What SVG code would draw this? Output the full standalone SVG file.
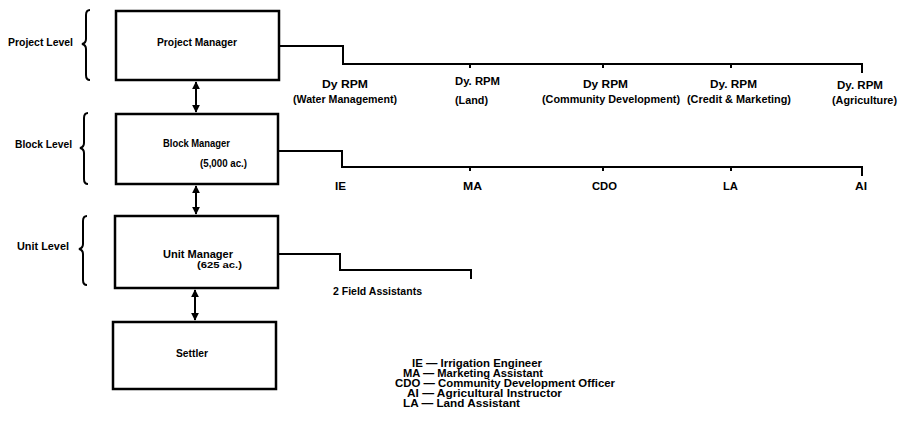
<svg xmlns="http://www.w3.org/2000/svg" width="906" height="429" viewBox="0 0 906 429">
<style>
text{font-family:"Liberation Sans",Arial,sans-serif;font-weight:bold;font-size:10px;fill:#000}
.box{fill:#fff;stroke:#000;stroke-width:2.5}
.ln{fill:none;stroke:#000;stroke-width:2}
.br{fill:none;stroke:#000;stroke-width:2}
.ar{fill:none;stroke:#000;stroke-width:2}
.s{font-size:9px}
</style>
<defs>
<marker id="ah" viewBox="0 0 10 10" refX="9" refY="5" markerWidth="4" markerHeight="4" orient="auto-start-reverse" markerUnits="strokeWidth">
<path d="M0,0 L10,5 L0,10 z" fill="#000"/>
</marker>
</defs>
<rect width="906" height="429" fill="#fff"/>

<g id="levels">
<text x="8" y="46" textLength="65" lengthAdjust="spacingAndGlyphs">Project Level</text>
<path class="br" d="M90,10 Q86,10 86,15 V39 Q86,43 82,44 Q86,45 86,49 V75 Q86,80 90,80"/>
<text x="15" y="148" textLength="57" lengthAdjust="spacingAndGlyphs">Block Level</text>
<path class="br" d="M88,113 Q84,113 84,118 V143 Q84,147 80,148 Q84,149 84,153 V179 Q84,184 88,184"/>
<text x="17" y="250" textLength="52" lengthAdjust="spacingAndGlyphs">Unit Level</text>
<path class="br" d="M87,216 Q83,216 83,221 V244 Q83,248 79,249 Q83,250 83,254 V280 Q83,285 87,285"/>
</g>

<g id="connectors">
<path class="ln" d="M279,46 H343 V64 H862 V73"/>
<path class="ln" d="M470,64 V68 M603,64 V68 M731,64 V68"/>
<path class="ln" d="M278,151 H342 V167 H862 V176"/>
<path class="ln" d="M470,167 V171 M603,167 V171 M731,167 V171"/>
<path class="ln" d="M277,254 H340 V270 H471 V279"/>
<line class="ar" x1="196" y1="82" x2="196" y2="112" marker-start="url(#ah)" marker-end="url(#ah)"/>
<line class="ar" x1="196" y1="186" x2="196" y2="214" marker-start="url(#ah)" marker-end="url(#ah)"/>
<line class="ar" x1="195" y1="290" x2="195" y2="320" marker-start="url(#ah)" marker-end="url(#ah)"/>
</g>

<g id="project-manager">
<rect class="box" x="116" y="11" width="163" height="69"/>
<text x="157" y="46" textLength="80" lengthAdjust="spacingAndGlyphs">Project Manager</text>
</g>
<g id="block-manager">
<rect class="box" x="116" y="114" width="162" height="70"/>
<text x="163" y="147" textLength="67" lengthAdjust="spacingAndGlyphs">Block Manager</text>
<text x="200" y="167" textLength="47" lengthAdjust="spacingAndGlyphs">(5,000 ac.)</text>
</g>
<g id="unit-manager">
<rect class="box" x="115" y="216" width="163" height="72"/>
<text x="163" y="258" textLength="70" lengthAdjust="spacingAndGlyphs">Unit Manager</text>
<text class="s" x="197" y="268" textLength="45" lengthAdjust="spacingAndGlyphs">(625 ac.)</text>
</g>
<g id="settler">
<rect class="box" x="113" y="322" width="163" height="67"/>
<text x="176" y="357" textLength="32" lengthAdjust="spacingAndGlyphs">Settler</text>
</g>

<g id="dy-rpm-water">
<text x="322" y="88" textLength="46" lengthAdjust="spacingAndGlyphs">Dy  RPM</text>
<text x="293" y="103" textLength="104" lengthAdjust="spacingAndGlyphs">(Water Management)</text>
</g>
<g id="dy-rpm-land">
<text x="455" y="85" textLength="45" lengthAdjust="spacingAndGlyphs">Dy. RPM</text>
<text x="455" y="104" textLength="33" lengthAdjust="spacingAndGlyphs">(Land)</text>
</g>
<g id="dy-rpm-community">
<text x="583" y="88" textLength="45" lengthAdjust="spacingAndGlyphs">Dy  RPM</text>
<text x="542" y="103" textLength="138" lengthAdjust="spacingAndGlyphs">(Community Development)</text>
</g>
<g id="dy-rpm-credit">
<text x="710" y="88" textLength="47" lengthAdjust="spacingAndGlyphs">Dy. RPM</text>
<text x="687" y="103" textLength="104" lengthAdjust="spacingAndGlyphs">(Credit &amp; Marketing)</text>
</g>
<g id="dy-rpm-agriculture">
<text x="837" y="89" textLength="46" lengthAdjust="spacingAndGlyphs">Dy. RPM</text>
<text x="832" y="104" textLength="65" lengthAdjust="spacingAndGlyphs">(Agriculture)</text>
</g>

<g id="ie"><text x="335" y="190" textLength="11" lengthAdjust="spacingAndGlyphs">IE</text></g>
<g id="ma"><text x="463" y="190" textLength="19" lengthAdjust="spacingAndGlyphs">MA</text></g>
<g id="cdo"><text x="592" y="190" textLength="25" lengthAdjust="spacingAndGlyphs">CDO</text></g>
<g id="la"><text x="723" y="190" textLength="15" lengthAdjust="spacingAndGlyphs">LA</text></g>
<g id="ai"><text x="855" y="190" textLength="12" lengthAdjust="spacingAndGlyphs">AI</text></g>
<g id="field-assistants"><text x="333" y="295" textLength="89" lengthAdjust="spacingAndGlyphs">2 Field Assistants</text></g>

<g id="legend">
<text x="412" y="367" textLength="130" lengthAdjust="spacingAndGlyphs">IE — Irrigation Engineer</text>
<text x="403" y="377" textLength="140" lengthAdjust="spacingAndGlyphs">MA — Marketing Assistant</text>
<text x="395" y="387" textLength="220" lengthAdjust="spacingAndGlyphs">CDO — Community Development Officer</text>
<text x="407" y="397" textLength="155" lengthAdjust="spacingAndGlyphs">AI — Agricultural Instructor</text>
<text x="403" y="407" textLength="117" lengthAdjust="spacingAndGlyphs">LA — Land Assistant</text>
</g>
</svg>
